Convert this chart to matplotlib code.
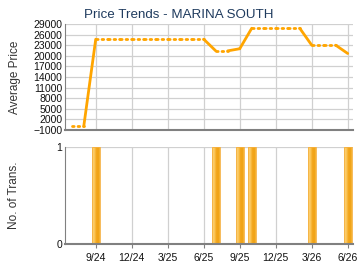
import numpy as np
import matplotlib.pyplot as plt
from matplotlib.colors import LinearSegmentedColormap

# months counted from 9/24 (= 0)
months = np.arange(-2, 22)
avg_price = [0, 0,
             24700, 24700, 24700, 24700, 24700, 24700, 24700, 24700, 24700, 24700,
             21400, 21400, 22000,
             27800, 27800, 27800, 27800, 27800,
             23000, 23000, 23000,
             20650]
trans_months = [0, 10, 12, 13, 18, 21]
trans_counts = [1, 1, 1, 1, 1, 1]

tick_pos = [0, 3, 6, 9, 12, 15, 18, 21]
tick_labels = ["9/24", "12/24", "3/25", "6/25", "9/25", "12/25", "3/26", "6/26"]
price_ticks = list(range(-1000, 29001, 3000))

plt.rcParams['font.family'] = ['Liberation Sans', 'DejaVu Sans']

fig = plt.figure(figsize=(3.6, 2.7), dpi=100)
ax1 = fig.add_axes([0.1806, 0.5185, 0.8, 0.3926])
ax2 = fig.add_axes([0.1806, 0.0963, 0.8, 0.3593])

orange = '#ffa500'
has_trans = set(trans_months)
for i in range(1, len(months)):
    m = months[i]
    style = '-' if m in has_trans else (0, (0.6, 1.4))
    ax1.plot(months[i-1:i+1], avg_price[i-1:i+1], color=orange, lw=2,
             linestyle=style, solid_capstyle='round', dash_capstyle='round')

xlim = (-2.56, 21.44)
for ax in (ax1, ax2):
    ax.set_xlim(*xlim)
    ax.set_xticks(tick_pos)
    ax.grid(True, color='#d0d0d0', lw=0.9)
    ax.set_axisbelow(True)
    for s in ('top', 'right'):
        ax.spines[s].set_visible(False)
    ax.spines['left'].set_color('#808080')
    ax.spines['bottom'].set_color('#808080')
    ax.spines['bottom'].set_linewidth(1.5)
    ax.tick_params(axis='y', length=0, pad=2, labelsize=7.5, colors='#111111')
    ax.tick_params(axis='x', length=3, color='#808080', labelsize=7.5, colors='#111111')

ax1.set_ylim(-1000, 29000)
ax1.set_yticks(price_ticks)
ax1.set_xticklabels([])
ax1.tick_params(axis='x', length=0)
ax1.set_ylabel("Average Price", fontsize=8.5, color='#333333', va='center')
ax1.yaxis.set_label_coords(-0.174, 0.5)

# bars with a left-to-right light-to-dark gradient, drawn as thin strips
bar_w = 0.7
n_strips = 14
grad = LinearSegmentedColormap.from_list(
    'g', ['#fbcf72', '#fccf70', '#f9bd45', '#f3a820', '#eea010', '#f5b030'])
for k in range(n_strips):
    off = -bar_w / 2 + k * bar_w / n_strips
    ax2.bar(np.array(trans_months) + off, trans_counts, width=bar_w / n_strips + 0.002,
            align='edge', color=grad(k / (n_strips - 1)), lw=0)
ax2.bar(trans_months, trans_counts, width=bar_w, fill=False, edgecolor='#f5b040', lw=0.6)
ax2.set_ylim(0, 1)
ax2.set_yticks([0, 1])
ax2.set_xticklabels(tick_labels)
ax2.set_ylabel("No. of Trans.", fontsize=8.5, color='#333333', va='center')
ax2.yaxis.set_label_coords(-0.177, 0.5)

fig.text(0.497, 0.945, "Price Trends - MARINA SOUTH", ha='center', va='center',
         fontsize=9.6, color='#1f3b5e')

fig.savefig("out.png", dpi=100)
